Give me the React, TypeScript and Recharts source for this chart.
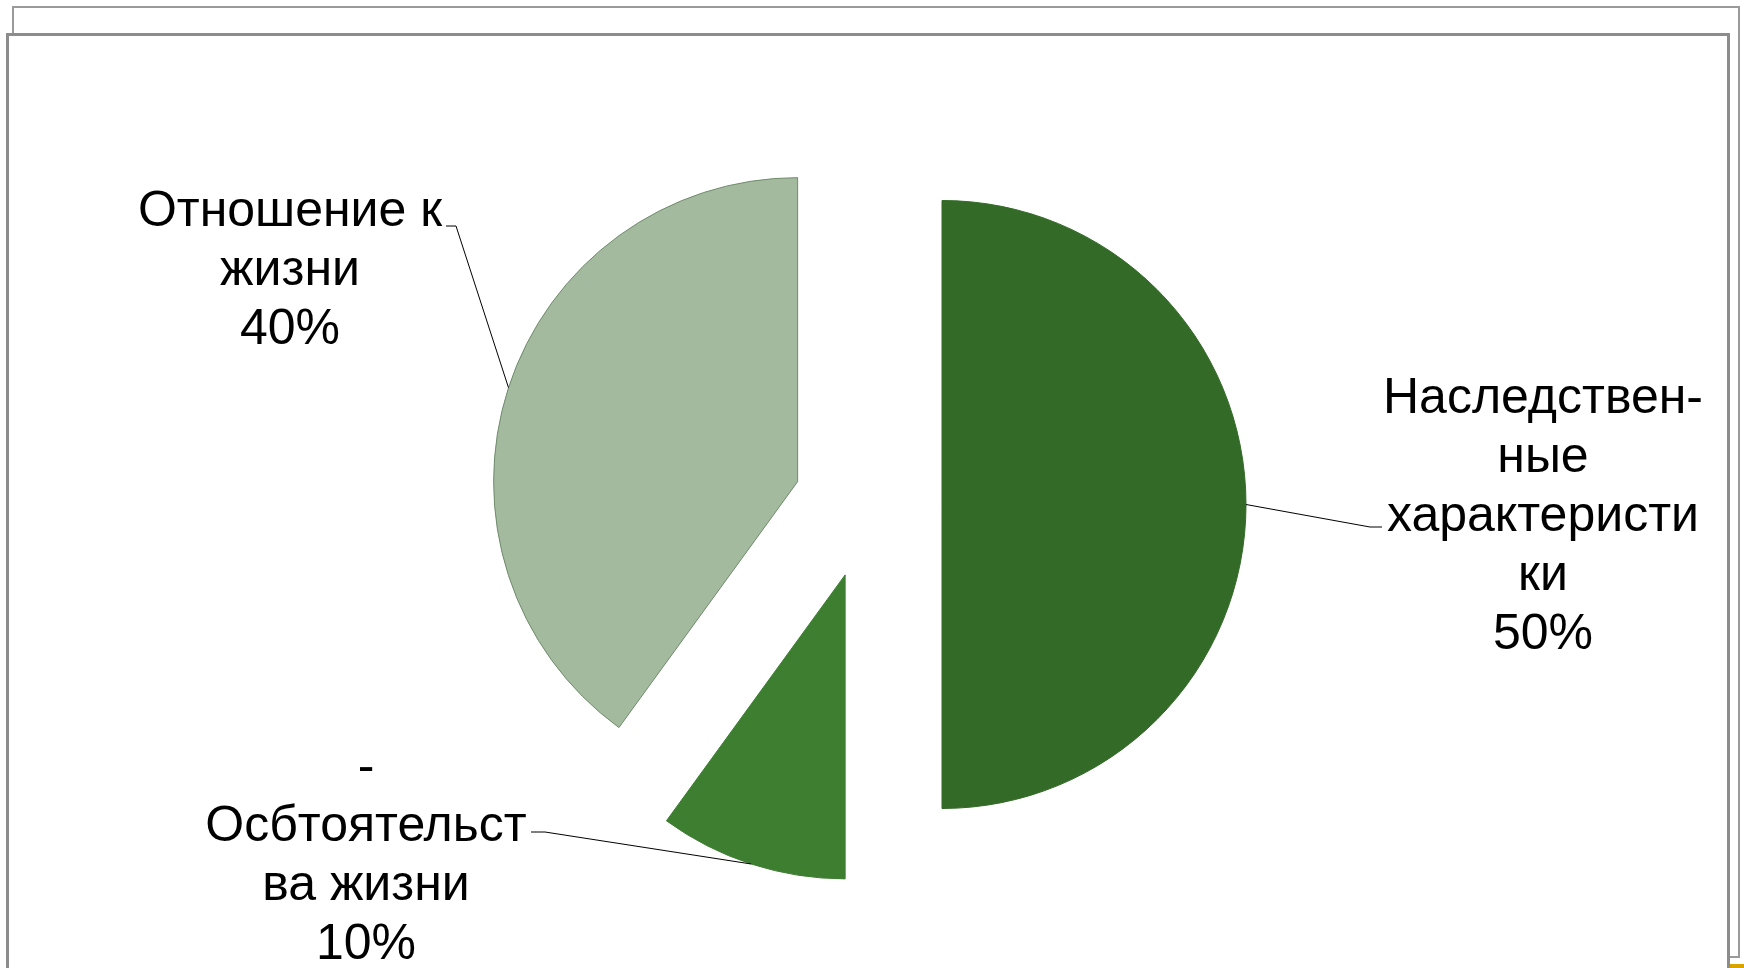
import { PieChart, Pie, Cell, Sector } from "recharts";

const categories = [
  "Наследственные характеристики",
  "Осбтоятельства жизни",
  "Отношение к жизни",
];
// label text as it is wrapped in the slide
const labelLines = [
  ["Наследствен-", "ные", "характеристи", "ки"],
  ["-", "Осбтоятельст", "ва жизни"],
  ["Отношение к", "жизни"],
];
const shares = [50, 10, 40];

const COLORS = ["#336a27", "#3d7e31", "#a3ba9f"];
const STROKES = ["#336a27", "#3d7e31", "#6f8b6b"];

const data = categories.map((name, i) => ({ name, value: shares[i] }));

const RAD = Math.PI / 180;
const EXPLODE = 74;
const FONT = 50;
const LINE_H = 59;
const FONT_FAMILY = "'Liberation Sans', Arial, sans-serif";

// text centre x, first line centre y, elbow of leader line, end of short tail
const LABEL_POS = [
  { x: 1543, y: 395, ex: 1370, ey: 527, hx: 1382 },
  { x: 366, y: 764, ex: 545, ey: 832, hx: 531 },
  { x: 290, y: 208, ex: 456, ey: 226, hx: 446 },
];

const explodedSector = (props: any) => {
  const { cx, cy, midAngle } = props;
  const dx = EXPLODE * Math.cos(-midAngle * RAD);
  const dy = EXPLODE * Math.sin(-midAngle * RAD);
  return <Sector {...props} cx={cx + dx} cy={cy + dy} />;
};

const renderLabel = (props: any) => {
  const { cx, cy, midAngle, outerRadius, percent, index } = props;
  const r = EXPLODE + outerRadius;
  const ox = cx + r * Math.cos(-midAngle * RAD);
  const oy = cy + r * Math.sin(-midAngle * RAD);
  const pos = LABEL_POS[index];
  const lines = [...labelLines[index], `${Math.round(percent * 100)}%`];
  return (
    <g key={`lbl-${index}`}>
      <polyline
        points={`${ox},${oy} ${pos.ex},${pos.ey} ${pos.hx},${pos.ey}`}
        fill="none"
        stroke="#000"
        strokeWidth={1}
      />
      <text
        textAnchor="middle"
        fontSize={FONT}
        fontFamily={FONT_FAMILY}
        fill="#000"
      >
        {lines.map((l, i) => (
          <tspan key={i} x={pos.x} y={pos.y + i * LINE_H + FONT * 0.36}>
            {l}
          </tspan>
        ))}
      </text>
    </g>
  );
};

export default function App() {
  return (
    <div
      style={{
        position: "absolute",
        left: 0,
        top: 0,
        width: 1744,
        height: 968,
        background: "#fff",
        overflow: "hidden",
      }}
    >
      {/* slide frames behind the chart */}
      <div
        style={{
          position: "absolute",
          left: 12,
          top: 6,
          width: 1728,
          height: 952,
          border: "2px solid #9a9a9a",
          boxSizing: "border-box",
        }}
      />
      <div
        style={{
          position: "absolute",
          left: 1728,
          top: 964,
          width: 16,
          height: 4,
          background: "#d9a400",
        }}
      />
      <div
        style={{
          position: "absolute",
          left: 6,
          top: 33,
          width: 1724,
          height: 960,
          border: "3px solid #8c8c8c",
          background: "#fff",
          boxSizing: "border-box",
        }}
      />
      <div style={{ position: "absolute", left: 0, top: 0 }}>
        <PieChart width={1744} height={968}>
          <Pie
            data={data}
            dataKey="value"
            nameKey="name"
            cx={863}
            cy={499.5}
            outerRadius={304}
            startAngle={90}
            endAngle={-270}
            stroke="none"
            shape={explodedSector}
            activeShape={explodedSector}
            inactiveShape={explodedSector}
            label={renderLabel}
            labelLine={false}
            isAnimationActive={false}
          >
            {data.map((_, i) => (
              <Cell key={i} fill={COLORS[i]} stroke={STROKES[i]} strokeWidth={1} />
            ))}
          </Pie>
        </PieChart>
      </div>
    </div>
  );
}
